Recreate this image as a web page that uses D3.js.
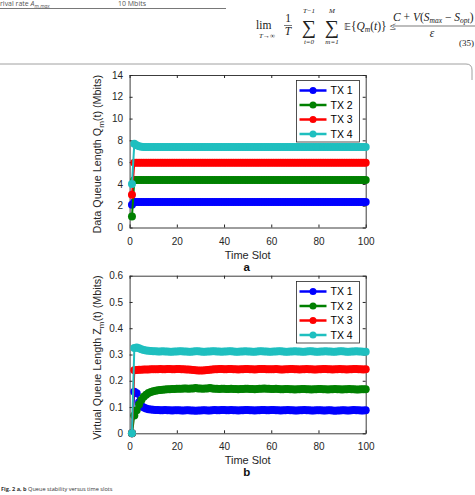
<!DOCTYPE html>
<html lang="en">
<head>
<meta charset="UTF-8">
<script src="https://d3js.org/d3.v7.min.js"></script>
<style>
  body { margin: 0; background: #fff; }
  svg { display: block; }
  .tick text { font-family: "Liberation Sans", Arial, sans-serif; font-size: 10px; fill: #262626; }
  .tick line, .domain { stroke: #262626; }
</style>
<title>Queue stability</title>
</head>
<body>
<div id="chart"></div>
<script>
// ---- data ----
const series = ["TX 1", "TX 2", "TX 3", "TX 4"];
const colors = ["#0000ff", "#008000", "#ff0000", "#1fbfbf"];
const xTicks = [0, 20, 40, 60, 80, 100];
const yTicksA = [0, 2, 4, 6, 8, 10, 12, 14];
const yTicksB = [0, 0.1, 0.2, 0.3, 0.4, 0.5, 0.6];
const timeSlots = d3.range(1, 101);

// (a) data queue length Q_m(t)
const queueTX1 = [
  2.1, 2.35, 2.35, 2.35, 2.35, 2.35, 2.35, 2.35, 2.35, 2.35, 2.35, 2.35, 2.35, 2.35, 2.35, 2.35, 2.35, 2.35, 2.35, 2.35,
  2.35, 2.35, 2.35, 2.35, 2.35, 2.35, 2.35, 2.35, 2.35, 2.35, 2.35, 2.35, 2.35, 2.35, 2.35, 2.35, 2.35, 2.35, 2.35, 2.35,
  2.35, 2.35, 2.35, 2.35, 2.35, 2.35, 2.35, 2.35, 2.35, 2.35, 2.35, 2.35, 2.35, 2.35, 2.35, 2.35, 2.35, 2.35, 2.35, 2.35,
  2.35, 2.35, 2.35, 2.35, 2.35, 2.35, 2.35, 2.35, 2.35, 2.35, 2.35, 2.35, 2.35, 2.35, 2.35, 2.35, 2.35, 2.35, 2.35, 2.35,
  2.35, 2.35, 2.35, 2.35, 2.35, 2.35, 2.35, 2.35, 2.35, 2.35, 2.35, 2.35, 2.35, 2.35, 2.35, 2.35, 2.35, 2.35, 2.35, 2.35];
const queueTX2 = [
  1.0, 4.35, 4.35, 4.35, 4.35, 4.35, 4.35, 4.35, 4.35, 4.35, 4.35, 4.35, 4.35, 4.35, 4.35, 4.35, 4.35, 4.35, 4.35, 4.35,
  4.35, 4.35, 4.35, 4.35, 4.35, 4.35, 4.35, 4.35, 4.35, 4.35, 4.35, 4.35, 4.35, 4.35, 4.35, 4.35, 4.35, 4.35, 4.35, 4.35,
  4.35, 4.35, 4.35, 4.35, 4.35, 4.35, 4.35, 4.35, 4.35, 4.35, 4.35, 4.35, 4.35, 4.35, 4.35, 4.35, 4.35, 4.35, 4.35, 4.35,
  4.35, 4.35, 4.35, 4.35, 4.35, 4.35, 4.35, 4.35, 4.35, 4.35, 4.35, 4.35, 4.35, 4.35, 4.35, 4.35, 4.35, 4.35, 4.35, 4.35,
  4.35, 4.35, 4.35, 4.35, 4.35, 4.35, 4.35, 4.35, 4.35, 4.35, 4.35, 4.35, 4.35, 4.35, 4.35, 4.35, 4.35, 4.35, 4.35, 4.35];
const queueTX3 = [
  3.0, 5.95, 5.95, 5.95, 5.95, 5.95, 5.95, 5.95, 5.95, 5.95, 5.95, 5.95, 5.95, 5.95, 5.95, 5.95, 5.95, 5.95, 5.95, 5.95,
  5.95, 5.95, 5.95, 5.95, 5.95, 5.95, 5.95, 5.95, 5.95, 5.95, 5.95, 5.95, 5.95, 5.95, 5.95, 5.95, 5.95, 5.95, 5.95, 5.95,
  5.95, 5.95, 5.95, 5.95, 5.95, 5.95, 5.95, 5.95, 5.95, 5.95, 5.95, 5.95, 5.95, 5.95, 5.95, 5.95, 5.95, 5.95, 5.95, 5.95,
  5.95, 5.95, 5.95, 5.95, 5.95, 5.95, 5.95, 5.95, 5.95, 5.95, 5.95, 5.95, 5.95, 5.95, 5.95, 5.95, 5.95, 5.95, 5.95, 5.95,
  5.95, 5.95, 5.95, 5.95, 5.95, 5.95, 5.95, 5.95, 5.95, 5.95, 5.95, 5.95, 5.95, 5.95, 5.95, 5.95, 5.95, 5.95, 5.95, 5.95];
const queueTX4 = [
  4.0, 7.7, 7.55, 7.45, 7.42, 7.4, 7.4, 7.4, 7.4, 7.4, 7.4, 7.4, 7.4, 7.4, 7.4, 7.4, 7.4, 7.4, 7.4, 7.4,
  7.4, 7.4, 7.4, 7.4, 7.4, 7.4, 7.4, 7.4, 7.4, 7.4, 7.4, 7.4, 7.4, 7.4, 7.4, 7.4, 7.4, 7.4, 7.4, 7.4,
  7.4, 7.4, 7.4, 7.4, 7.4, 7.4, 7.4, 7.4, 7.4, 7.4, 7.4, 7.4, 7.4, 7.4, 7.4, 7.4, 7.4, 7.4, 7.4, 7.4,
  7.4, 7.4, 7.4, 7.4, 7.4, 7.4, 7.4, 7.4, 7.4, 7.4, 7.4, 7.4, 7.4, 7.4, 7.4, 7.4, 7.4, 7.4, 7.4, 7.4,
  7.4, 7.4, 7.4, 7.4, 7.4, 7.4, 7.4, 7.4, 7.4, 7.4, 7.4, 7.4, 7.4, 7.4, 7.4, 7.4, 7.4, 7.4, 7.4, 7.4];

// (b) virtual queue length Z_m(t)
const virtTX1 = [
  0, 0.158, 0.152, 0.118, 0.104, 0.098, 0.094, 0.092, 0.091, 0.090, 0.089, 0.089, 0.088, 0.088, 0.089, 0.088, 0.088, 0.087, 0.088, 0.088,
  0.088, 0.087, 0.087, 0.088, 0.088, 0.087, 0.087, 0.086, 0.087, 0.087, 0.088, 0.088, 0.087, 0.087, 0.088, 0.089, 0.088, 0.088, 0.089, 0.089,
  0.088, 0.088, 0.089, 0.088, 0.088, 0.087, 0.088, 0.088, 0.089, 0.089, 0.088, 0.088, 0.087, 0.088, 0.088, 0.089, 0.089, 0.088, 0.088, 0.089,
  0.089, 0.088, 0.088, 0.087, 0.088, 0.088, 0.089, 0.088, 0.088, 0.087, 0.087, 0.088, 0.088, 0.089, 0.088, 0.088, 0.087, 0.087, 0.088, 0.088,
  0.088, 0.087, 0.087, 0.088, 0.088, 0.087, 0.086, 0.087, 0.087, 0.088, 0.088, 0.087, 0.087, 0.088, 0.089, 0.088, 0.088, 0.087, 0.087, 0.088];
const virtTX2 = [
  0, 0.068, 0.088, 0.110, 0.127, 0.139, 0.147, 0.153, 0.157, 0.160, 0.162, 0.164, 0.165, 0.166, 0.167, 0.168, 0.168, 0.169, 0.169, 0.170,
  0.170, 0.170, 0.171, 0.171, 0.170, 0.171, 0.171, 0.172, 0.171, 0.171, 0.170, 0.171, 0.171, 0.172, 0.171, 0.170, 0.170, 0.169, 0.170, 0.170,
  0.169, 0.169, 0.170, 0.169, 0.169, 0.168, 0.169, 0.169, 0.170, 0.170, 0.169, 0.169, 0.168, 0.169, 0.170, 0.170, 0.171, 0.170, 0.170, 0.169,
  0.169, 0.170, 0.169, 0.168, 0.168, 0.169, 0.169, 0.168, 0.168, 0.167, 0.168, 0.168, 0.169, 0.169, 0.168, 0.168, 0.167, 0.168, 0.168, 0.169,
  0.169, 0.168, 0.168, 0.167, 0.168, 0.168, 0.169, 0.168, 0.168, 0.167, 0.168, 0.168, 0.169, 0.168, 0.168, 0.167, 0.167, 0.168, 0.168, 0.168];
const virtTX3 = [
  0, 0.240, 0.241, 0.242, 0.242, 0.243, 0.243, 0.243, 0.244, 0.244, 0.244, 0.244, 0.245, 0.244, 0.244, 0.245, 0.245, 0.244, 0.244, 0.245,
  0.245, 0.244, 0.244, 0.243, 0.243, 0.242, 0.241, 0.240, 0.239, 0.239, 0.239, 0.240, 0.241, 0.242, 0.243, 0.244, 0.244, 0.245, 0.245, 0.244,
  0.244, 0.245, 0.245, 0.244, 0.244, 0.243, 0.244, 0.244, 0.245, 0.245, 0.244, 0.244, 0.243, 0.244, 0.245, 0.245, 0.245, 0.244, 0.244, 0.244,
  0.244, 0.245, 0.244, 0.243, 0.243, 0.244, 0.244, 0.245, 0.245, 0.244, 0.244, 0.243, 0.244, 0.244, 0.245, 0.244, 0.244, 0.243, 0.243, 0.244,
  0.244, 0.245, 0.245, 0.244, 0.244, 0.243, 0.244, 0.244, 0.245, 0.244, 0.244, 0.243, 0.244, 0.244, 0.245, 0.245, 0.244, 0.244, 0.243, 0.244];
const virtTX4 = [
  0, 0.325, 0.327, 0.324, 0.320, 0.317, 0.315, 0.314, 0.313, 0.312, 0.312, 0.311, 0.311, 0.312, 0.311, 0.311, 0.310, 0.310, 0.311, 0.311,
  0.312, 0.312, 0.311, 0.311, 0.310, 0.310, 0.311, 0.312, 0.312, 0.311, 0.310, 0.310, 0.311, 0.311, 0.312, 0.312, 0.311, 0.311, 0.310, 0.311,
  0.311, 0.312, 0.312, 0.311, 0.310, 0.310, 0.311, 0.311, 0.312, 0.311, 0.311, 0.310, 0.310, 0.311, 0.312, 0.312, 0.311, 0.311, 0.310, 0.310,
  0.311, 0.311, 0.312, 0.312, 0.311, 0.310, 0.310, 0.311, 0.311, 0.312, 0.311, 0.311, 0.310, 0.310, 0.311, 0.312, 0.312, 0.311, 0.310, 0.310,
  0.311, 0.311, 0.312, 0.311, 0.311, 0.310, 0.310, 0.311, 0.312, 0.312, 0.311, 0.310, 0.310, 0.311, 0.311, 0.312, 0.311, 0.311, 0.310, 0.310];

// ---- layout ----
const W = 475, H = 495;
const svg = d3.select("#chart").append("svg").attr("width", W).attr("height", H);
const font = '"Liberation Sans", Arial, sans-serif';
const serif = '"Liberation Serif", "Times New Roman", serif';

// page context above the figure
const header = svg.append("g").attr("fill", "#555").style("font-family", '"Open Sans", sans-serif').style("font-size", "7px");
const t1 = header.append("text").attr("x", 0).attr("y", 6);
t1.append("tspan").text("rival rate ");
t1.append("tspan").attr("font-style", "italic").text("A");
t1.append("tspan").attr("font-style", "italic").attr("font-size", "5px").attr("dy", 1.5).text("m,max");
header.append("text").attr("x", 118).attr("y", 6).text("10 Mbits");
svg.append("line").attr("x1", 0).attr("x2", 226).attr("y1", 8.5).attr("y2", 8.5).attr("stroke", "#555").attr("stroke-width", 0.8);

const eq = svg.append("g").attr("fill", "#222").style("font-family", serif).style("font-size", "11.5px");
eq.append("text").attr("x", 256).attr("y", 29).text("lim");
const lsub = eq.append("text").attr("x", 267).attr("y", 38).attr("text-anchor", "middle").style("font-size", "7px");
lsub.append("tspan").attr("font-style", "italic").text("T");
lsub.append("tspan").text("→∞");
eq.append("text").attr("x", 288).attr("y", 22).attr("text-anchor", "middle").text("1");
eq.append("line").attr("x1", 284).attr("x2", 292).attr("y1", 25.5).attr("y2", 25.5).attr("stroke", "#222").attr("stroke-width", 0.6);
eq.append("text").attr("x", 288).attr("y", 35).attr("text-anchor", "middle").attr("font-style", "italic").text("T");
[[309, "T\u22121", "t=0"], [332, "M", "m=1"]].forEach(([cx, up, lo]) => {
  eq.append("text").attr("x", cx).attr("y", 34).attr("text-anchor", "middle").style("font-size", "20px").text("\u2211");
  eq.append("text").attr("x", cx).attr("y", 13).attr("text-anchor", "middle").attr("font-style", "italic").style("font-size", "7px").text(up);
  eq.append("text").attr("x", cx).attr("y", 44).attr("text-anchor", "middle").attr("font-style", "italic").style("font-size", "7px").text(lo);
});
const ex = eq.append("text").attr("x", 344).attr("y", 30);
ex.append("tspan").style("font-family", '"DejaVu Sans", sans-serif').style("font-size", "9.5px").text("\ud835\udd3c");
ex.append("tspan").text("{");
ex.append("tspan").attr("font-style", "italic").text("Q");
ex.append("tspan").attr("font-style", "italic").style("font-size", "7.5px").attr("dy", 2).text("m");
ex.append("tspan").attr("dy", -2).text("(");
ex.append("tspan").attr("font-style", "italic").text("t");
ex.append("tspan").text(")} \u2264");
const num = eq.append("text").attr("x", 393).attr("y", 21);
num.append("tspan").attr("font-style", "italic").text("C");
num.append("tspan").text(" + ");
num.append("tspan").attr("font-style", "italic").text("V");
num.append("tspan").text("(");
num.append("tspan").attr("font-style", "italic").text("S");
num.append("tspan").attr("font-style", "italic").style("font-size", "7.5px").attr("dy", 2).text("max");
num.append("tspan").attr("dy", -2).text(" \u2212 ");
num.append("tspan").attr("font-style", "italic").text("S");
num.append("tspan").attr("font-style", "italic").style("font-size", "7.5px").attr("dy", 2).text("opt");
num.append("tspan").attr("dy", -2).text(")");
eq.append("line").attr("x1", 393).attr("x2", 475).attr("y1", 26).attr("y2", 26).attr("stroke", "#222").attr("stroke-width", 0.6);
eq.append("text").attr("x", 432).attr("y", 37).attr("text-anchor", "middle").attr("font-style", "italic").text("\u03b5");
eq.append("text").attr("x", 474).attr("y", 46).attr("text-anchor", "end").style("font-size", "9px").text("(35)");

// figure frame (top edge with rounded corner)
svg.append("path").attr("d", "M0,64 H466 Q472,64 472,70 V80").attr("fill", "none").attr("stroke", "#888").attr("stroke-width", 0.8);

// ---- panels ----
const x = d3.scaleLinear().domain([0, 100]).range([129.6, 365.7]);

function panel(cfg) {
  const { y, yTicks, data, label, sub, letter, legendTop } = cfg;
  const g = svg.append("g");
  const [y0, y1] = y.range();

  const fmt = d => d3.format("~g")(d);
  g.append("g").attr("transform", `translate(0,${y0})`)
    .call(d3.axisBottom(x).tickValues(xTicks).tickSizeInner(-3).tickSizeOuter(0).tickPadding(10));
  g.append("g").attr("transform", `translate(0,${y1})`)
    .call(d3.axisTop(x).tickValues(xTicks).tickSizeInner(-3).tickSizeOuter(0).tickFormat(""));
  g.append("g").attr("transform", `translate(${x.range()[0]},0)`)
    .call(d3.axisLeft(y).tickValues(yTicks).tickSizeInner(-3).tickSizeOuter(0).tickPadding(6.5).tickFormat(fmt));
  g.append("g").attr("transform", `translate(${x.range()[1]},0)`)
    .call(d3.axisRight(y).tickValues(yTicks).tickSizeInner(-3).tickSizeOuter(0).tickFormat(""));
  g.selectAll(".domain").attr("stroke-width", 0.9);

  const line = d3.line().x((d, i) => x(timeSlots[i])).y(d => y(d));
  data.forEach((vals, k) => {
    g.append("path").datum(vals).attr("d", line)
      .attr("fill", "none").attr("stroke", colors[k]).attr("stroke-width", 2);
    g.selectAll(null).data(vals).enter().append("circle")
      .attr("cx", (d, i) => x(timeSlots[i])).attr("cy", d => y(d))
      .attr("r", 4).attr("fill", colors[k]);
  });

  // legend
  const lg = g.append("g").attr("transform", `translate(296.5,${legendTop})`);
  lg.append("rect").attr("width", 63).attr("height", 61.5).attr("fill", "#fff").attr("stroke", "#262626").attr("stroke-width", 0.8);
  series.forEach((s, k) => {
    const yy = 10 + k * 14.5;
    lg.append("line").attr("x1", 3).attr("x2", 30).attr("y1", yy).attr("y2", yy).attr("stroke", colors[k]).attr("stroke-width", 2.5);
    lg.append("circle").attr("cx", 16.5).attr("cy", yy).attr("r", 3.5).attr("fill", colors[k]);
    lg.append("text").attr("x", 34).attr("y", yy + 3.6).style("font-family", font).style("font-size", "10.5px").attr("fill", "#000").text(s);
  });

  // axis titles
  const cx = (x.range()[0] + x.range()[1]) / 2;
  g.append("text").attr("x", cx).attr("y", y0 + 31).attr("text-anchor", "middle")
    .style("font-family", font).style("font-size", "11px").attr("fill", "#262626").text("Time Slot");
  g.append("text").attr("x", cx - 1).attr("y", y0 + 43).attr("text-anchor", "middle")
    .style("font-family", font).style("font-size", "11.5px").attr("font-weight", "bold").attr("fill", "#111").text(letter);
  const yl = g.append("text").attr("transform", `translate(101,${(y0 + y1) / 2 + 3}) rotate(-90)`)
    .attr("text-anchor", "middle").style("font-family", font).style("font-size", "10.8px").attr("fill", "#262626");
  yl.append("tspan").text(label + " " + sub);
  yl.append("tspan").attr("dy", 3).style("font-size", "8px").text("m");
  yl.append("tspan").attr("dy", -3).text("(t) (Mbits)");
}

panel({
  y: d3.scaleLinear().domain([0, 14]).range([227.5, 75]),
  yTicks: yTicksA,
  data: [queueTX1, queueTX2, queueTX3, queueTX4],
  label: "Data Queue Length", sub: "Q", letter: "a", legendTop: 80.5
});
panel({
  y: d3.scaleLinear().domain([0, 0.6]).range([433.3, 275.7]),
  yTicks: yTicksB,
  data: [virtTX1, virtTX2, virtTX3, virtTX4],
  label: "Virtual Queue Length", sub: "Z", letter: "b", legendTop: 281.5
});

// caption
const cap = svg.append("text").attr("x", 1).attr("y", 491).attr("fill", "#333")
  .style("font-family", '"Open Sans", sans-serif').style("font-size", "5.6px");
cap.append("tspan").attr("font-weight", "bold").text("Fig. 2 a, b");
cap.append("tspan").text(" Queue stability versus time slots");
</script>
</body>
</html>
